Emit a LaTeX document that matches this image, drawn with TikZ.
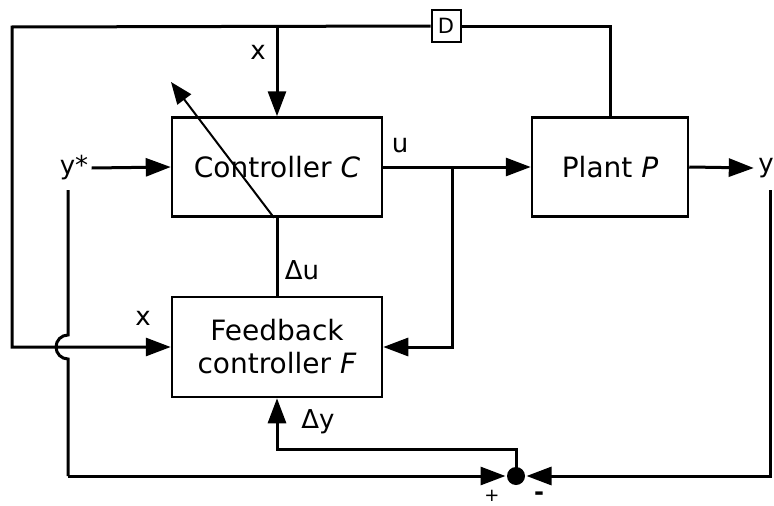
\documentclass[tikz,border=0pt]{standalone}
\usepackage{fontspec}
\setmainfont{DejaVu Sans}
\usetikzlibrary{arrows.meta}
\begin{document}
\begin{tikzpicture}[x=1pt,y=-1pt, line width=3pt,
  box/.style={draw, line width=2.5pt, inner sep=0pt, align=center, font=\fontsize{28}{33}\selectfont},
  lbl/.style={inner sep=0pt, font=\fontsize{26}{30}\selectfont},
  arr/.style={-{Triangle[length=25pt,width=18pt]}},
  thinarr/.style={line width=2pt, -{Triangle[length=22pt,width=17pt]}},
  dbox/.style={draw, line width=2pt, inner sep=0pt, minimum width=29pt, minimum height=32pt, font=\fontsize{21}{24}\selectfont},
  sumdot/.style={circle, fill=black, inner sep=0pt, minimum size=18pt}
]
\useasboundingbox (0,0) rectangle (774,506);

% blocks
\node[box, minimum width=210pt, minimum height=99pt] (ctl) at (277,167) {Controller \textit{C}};
\node[box, minimum width=156pt, minimum height=99pt] (plant) at (610,167) {Plant \textit{P}};
\node[box, minimum width=210pt, minimum height=100pt] (fb) at (277,347) {Feedback\\controller \textit{F}};
\node[dbox] (D) at (446,26) {D};
\node[sumdot] (sum) at (516,476) {};

% labels
\node[lbl] (ystar) at (74,168) {y*};
\node[lbl] (yout) at (766,168) {y};
\node[lbl] (xtop) at (258,52) {x};
\node[lbl] (xleft) at (143,318) {x};
\node[lbl] (ulbl) at (400,145) {u};
\node[lbl] (dulbl) at (302,270) {Δu};
\node[lbl] (dylbl) at (318,422) {Δy};
\node[inner sep=0pt, font=\fontsize{18}{22}\selectfont] (plus) at (492,496) {+};
\node[inner sep=0pt, font=\fontsize{24}{28}\selectfont\bfseries] (minus) at (539,496) {-};

% coordinates
\coordinate (tl) at (12,27);
\coordinate (tr) at (plant.north |- D.center);
\coordinate (lb) at (tl |- fb.west);
\coordinate (br) at (452,167);
\coordinate (ys) at (68,190);
\coordinate (hopt) at (68,335);
\coordinate (ysb) at (68,476);
\coordinate (rv) at (770,190);
\coordinate (rvb) at (770,476);
\coordinate (dyc) at (516,449);
\coordinate (dyl) at (277,449);
\coordinate (diagtip) at (171,82);

% feedback loop over top
\draw (plant.north) -- (tr) -- (D.east);
\draw[arr] (D.west) -- (tl) -- (lb) -- (fb.west);
\draw[arr] (ctl.north |- D.center) -- (ctl.north);

% reference input
\draw[arr] (ystar.east) ++(2pt,0) -- (ctl.west);
\draw (ys) -- (hopt) arc[start angle=90, end angle=270, radius=12pt] -- (ysb);
\draw[arr] (ysb) -- (sum);

% control signal
\draw[arr] (ctl.east) -- (plant.west);
\draw[arr] (br) -- (br |- fb.east) -- (fb.east);

% output
\draw[arr] (plant.east) -- ([xshift=-3pt]yout.west);
\draw[arr] (rv) -- (rvb) -- (sum);

% delta u, delta y
\draw (ctl.south) -- (fb.north);
\draw[arr] (sum.center) -- (dyc) -- (dyl) -- (fb.south);

% adaptation arrow
\draw[thinarr] ([xshift=-3pt]ctl.south) -- (diagtip);
\end{tikzpicture}
\end{document}
